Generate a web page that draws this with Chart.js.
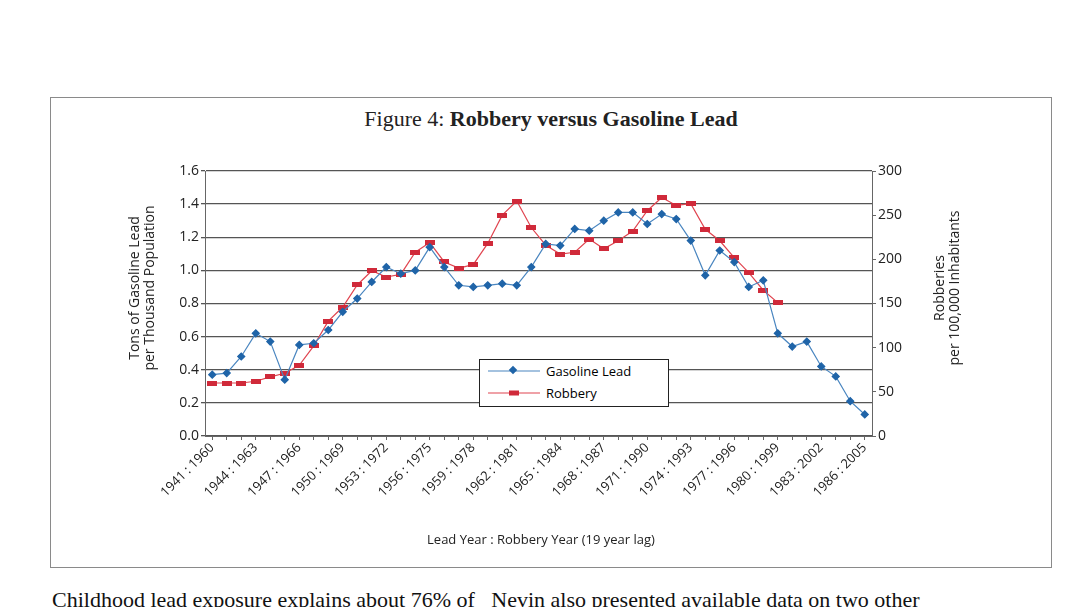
<!DOCTYPE html>
<html>
<head>
<meta charset="utf-8">
<script src="https://cdn.jsdelivr.net/npm/chart.js@4"></script>
<style>
  body { margin:0; width:1080px; height:607px; background:#fff; position:relative; overflow:hidden; font-family:"Open Sans", sans-serif; }
  #frame { position:absolute; left:50px; top:97px; width:1000px; height:469px; border:1px solid #8a8a8a; }
  #box { position:absolute; left:0; top:0; width:1000px; height:469px; }
  .t { position:absolute; color:#222; white-space:nowrap; }
  #title { left:0; width:1000px; top:8px; text-align:center; font-family:"Liberation Serif", serif; font-size:22px; }
  .rot { transform:rotate(-90deg); transform-origin:center; text-align:center; font-size:14px; line-height:15px; }
  #legend { position:absolute; left:428px; top:261px; width:188px; height:46px; border:1.5px solid #222; background:#fff; font-size:13px; }
  #legend div { height:22px; line-height:22px; position:relative; padding-left:66px; }
  #bottom { position:absolute; left:52px; top:587px; font-family:"Liberation Serif", serif; font-size:22px; color:#111; }
</style>
</head>
<body>
<div id="frame">
  <div class="t" id="title">Figure 4: <b>Robbery versus Gasoline Lead</b></div>
  <div id="box"><canvas id="c" width="1000" height="469"></canvas></div>
  <div class="t rot" style="left:-20px; top:175px; width:220px;">Tons of Gasoline Lead<br>per Thousand Population</div>
  <div class="t rot" style="left:790px; top:175px; width:210px;">Robberies<br>per 100,000 Inhabitants</div>
  <div class="t" style="left:0; width:980px; text-align:center; top:432px; font-size:13px;">Lead Year : Robbery Year (19 year lag)</div>
  <div id="legend">
    <div><svg style="position:absolute;left:8px;top:5px" width="52" height="12"><line x1="0" y1="6" x2="52" y2="6" stroke="#4a86c0" stroke-width="1.2"/><rect x="22" y="2" width="6" height="6" transform="rotate(45 25 5)" fill="#1f64a8"/></svg>Gasoline Lead</div>
    <div><svg style="position:absolute;left:8px;top:5px" width="52" height="12"><line x1="0" y1="6" x2="52" y2="6" stroke="#e04550" stroke-width="1.2"/><rect x="21" y="3.5" width="10" height="5" fill="#d02a3a"/></svg>Robbery</div>
  </div>
</div>
<div id="bottom">Childhood lead exposure explains about 76% of &nbsp;&nbsp;Nevin also presented available data on two other</div>
<script>
const leadYears = [];
for (let y = 1941; y <= 1986; y++) leadYears.push(y);
const categories = leadYears.map(y => y + " : " + (y + 19));

const gasolineLead = [0.37,0.38,0.48,0.62,0.57,0.34,0.55,0.56,0.64,0.75,0.83,0.93,1.02,0.98,1.00,1.14,1.02,0.91,0.90,0.91,0.92,0.91,1.02,1.16,1.15,1.25,1.24,1.30,1.35,1.35,1.28,1.34,1.31,1.18,0.97,1.12,1.05,0.90,0.94,0.62,0.54,0.57,0.42,0.36,0.21,0.13];
const robbery = [60,60,60,62,67,71,80,102,130,146,171,187,180,183,208,219,197,190,194,218,250,266,236,216,206,208,223,212,221,232,255,270,261,263,234,221,202,185,165,151];

const leftTicks = [0,0.2,0.4,0.6,0.8,1.0,1.2,1.4,1.6];
const rightTicks = [0,50,100,150,200,250,300];

const redMark = document.createElement("canvas");
redMark.width = 10; redMark.height = 5;
const rc = redMark.getContext("2d");
rc.fillStyle = "#d02a3a"; rc.fillRect(0,0,10,5);

new Chart(document.getElementById("c"), {
  type: "line",
  data: {
    labels: categories,
    datasets: [{
      label: "Gasoline Lead",
      data: gasolineLead,
      yAxisID: "y",
      borderColor: "#4a86c0",
      borderWidth: 1.2,
      pointStyle: "rectRot",
      pointRadius: 3.5,
      pointBackgroundColor: "#1f64a8",
      pointBorderColor: "#1f64a8",
      tension: 0
    }, {
      label: "Robbery",
      data: robbery,
      yAxisID: "y1",
      borderColor: "#e04550",
      borderWidth: 1.2,
      pointStyle: redMark,
      tension: 0
    }]
  },
  options: {
    responsive: false,
    animation: false,
    layout: { padding: { top: 73, left: 0, right: 0, bottom: 0 } },
    plugins: { legend: { display: false }, tooltip: { enabled: false } },
    scales: {
      x: {
        offset: true,
        afterFit: s => { s.height = 131; },
        grid: { drawOnChartArea: false, color: "#666", tickLength: 4 },
        border: { color: "#666" },
        ticks: {
          autoSkip: false, maxRotation: 45, minRotation: 45, padding: 0,
          color: "#222", font: { family: "Open Sans", size: 13 },
          callback: (v, i) => i % 3 === 0 ? categories[i] : ""
        }
      },
      y: {
        position: "left", min: 0, max: 1.6,
        afterFit: s => { s.width = 154; },
        afterBuildTicks: s => { s.ticks = leftTicks.map(v => ({ value: v })); },
        grid: { color: "#555", lineWidth: 1.3, tickLength: 4 },
        border: { color: "#666" },
        ticks: { color: "#222", font: { family: "Open Sans", size: 14 }, padding: 2, callback: v => v.toFixed(1) }
      },
      y1: {
        position: "right", min: 0, max: 300,
        afterFit: s => { s.width = 179; },
        afterBuildTicks: s => { s.ticks = rightTicks.map(v => ({ value: v })); },
        grid: { drawOnChartArea: false, color: "#666", tickLength: 4 },
        border: { color: "#666" },
        ticks: { color: "#222", font: { family: "Open Sans", size: 14 }, padding: 2 }
      }
    }
  }
});
</script>
</body>
</html>
